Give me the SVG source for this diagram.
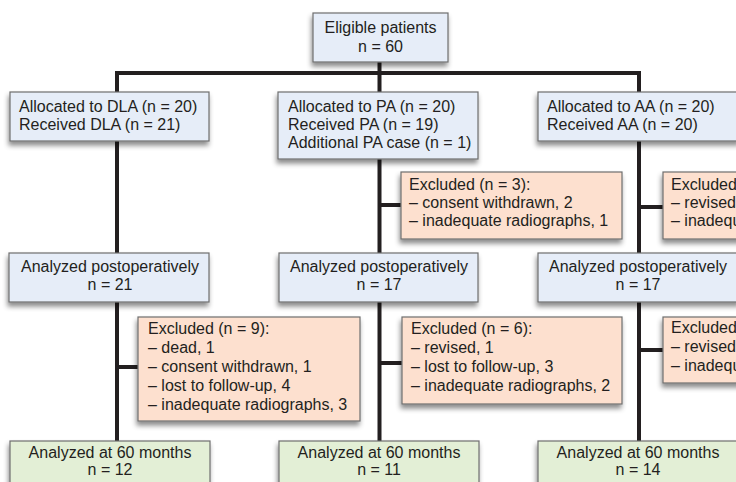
<svg xmlns="http://www.w3.org/2000/svg" width="736" height="482" viewBox="0 0 736 482">
  <defs>
    <filter id="sh" x="-10%" y="-20%" width="120%" height="150%">
      <feDropShadow dx="-1" dy="4" stdDeviation="2.8" flood-color="#000" flood-opacity="0.45"/>
    </filter>
    <style>
      .box { stroke: #6e6e6e; stroke-width: 1.2; filter: url(#sh); }
      .blue { fill: #e6edf8; }
      .salmon { fill: #fde0cf; }
      .green { fill: #e3efd6; }
      text { font-family: "Liberation Sans", Arial, sans-serif; font-size: 16px; fill: #231f20; }
      .c { text-anchor: middle; }
      .ln { stroke: #231f20; stroke-width: 4; fill: none; }
    </style>
  </defs>
  <rect width="736" height="482" fill="#ffffff"/>

  <g id="connectors">
    <line class="ln" x1="379.5" y1="62" x2="379.5" y2="73"/>
    <line class="ln" x1="115" y1="73" x2="641" y2="73"/>
    <line class="ln" x1="117" y1="73" x2="117" y2="441"/>
    <line class="ln" x1="379.5" y1="73" x2="379.5" y2="441"/>
    <line class="ln" x1="639" y1="73" x2="639" y2="441"/>
    <line class="ln" x1="379.5" y1="205" x2="401" y2="205"/>
    <line class="ln" x1="639" y1="207" x2="663" y2="207"/>
    <line class="ln" x1="117" y1="367" x2="138" y2="367"/>
    <line class="ln" x1="379.5" y1="363" x2="402" y2="363"/>
    <line class="ln" x1="639" y1="350" x2="663" y2="350"/>
  </g>

  <g id="eligible">
    <rect class="box blue" x="313" y="13" width="135" height="49"/>
    <text class="c" x="380.5" y="33">Eligible patients</text>
    <text class="c" x="380.5" y="52">n = 60</text>
  </g>

  <g id="alloc-dla">
    <rect class="box blue" x="10" y="92" width="199" height="49"/>
    <text x="19" y="112">Allocated to DLA (n = 20)</text>
    <text x="19" y="130">Received DLA (n = 21)</text>
  </g>
  <g id="alloc-pa">
    <rect class="box blue" x="278" y="92" width="200" height="67"/>
    <text x="288" y="112">Allocated to PA (n = 20)</text>
    <text x="288" y="130">Received PA (n = 19)</text>
    <text x="288" y="148">Additional PA case (n = 1)</text>
  </g>
  <g id="alloc-aa">
    <rect class="box blue" x="538" y="92" width="202" height="49"/>
    <text x="547" y="112">Allocated to AA (n = 20)</text>
    <text x="547" y="130">Received AA (n = 20)</text>
  </g>

  <g id="excl-pa-1">
    <rect class="box salmon" x="401" y="172" width="221" height="67"/>
    <text x="409" y="190">Excluded (n = 3):</text>
    <text x="409" y="208">– consent withdrawn, 2</text>
    <text x="409" y="226">– inadequate radiographs, 1</text>
  </g>
  <g id="excl-aa-1">
    <rect class="box salmon" x="663" y="172" width="80" height="67"/>
    <text x="671" y="190">Excluded</text>
    <text x="671" y="208">– revised</text>
    <text x="671" y="226">– inadequ</text>
  </g>

  <g id="post-dla">
    <rect class="box blue" x="9" y="253" width="200" height="49"/>
    <text class="c" x="110" y="272">Analyzed postoperatively</text>
    <text class="c" x="110" y="290">n = 21</text>
  </g>
  <g id="post-pa">
    <rect class="box blue" x="279" y="253" width="199" height="49"/>
    <text class="c" x="379" y="272">Analyzed postoperatively</text>
    <text class="c" x="379" y="290">n = 17</text>
  </g>
  <g id="post-aa">
    <rect class="box blue" x="538" y="253" width="202" height="49"/>
    <text class="c" x="638" y="272">Analyzed postoperatively</text>
    <text class="c" x="638" y="290">n = 17</text>
  </g>

  <g id="excl-dla-2">
    <rect class="box salmon" x="138" y="317" width="222" height="104"/>
    <text x="148" y="334">Excluded (n = 9):</text>
    <text x="148" y="353">– dead, 1</text>
    <text x="148" y="372">– consent withdrawn, 1</text>
    <text x="148" y="391">– lost to follow-up, 4</text>
    <text x="148" y="410">– inadequate radiographs, 3</text>
  </g>
  <g id="excl-pa-2">
    <rect class="box salmon" x="402" y="317" width="220" height="87"/>
    <text x="411" y="334">Excluded (n = 6):</text>
    <text x="411" y="353">– revised, 1</text>
    <text x="411" y="372">– lost to follow-up, 3</text>
    <text x="411" y="391">– inadequate radiographs, 2</text>
  </g>
  <g id="excl-aa-2">
    <rect class="box salmon" x="663" y="317" width="80" height="66"/>
    <text x="671" y="333">Excluded</text>
    <text x="671" y="352">– revised</text>
    <text x="671" y="371">– inadequ</text>
  </g>

  <g id="final-dla">
    <rect class="box green" x="10" y="441" width="200" height="50"/>
    <text class="c" x="110" y="458">Analyzed at 60 months</text>
    <text class="c" x="110" y="475">n = 12</text>
  </g>
  <g id="final-pa">
    <rect class="box green" x="279" y="441" width="200" height="50"/>
    <text class="c" x="379" y="458">Analyzed at 60 months</text>
    <text class="c" x="379" y="475">n = 11</text>
  </g>
  <g id="final-aa">
    <rect class="box green" x="538" y="441" width="202" height="50"/>
    <text class="c" x="638" y="458">Analyzed at 60 months</text>
    <text class="c" x="638" y="475">n = 14</text>
  </g>
</svg>
